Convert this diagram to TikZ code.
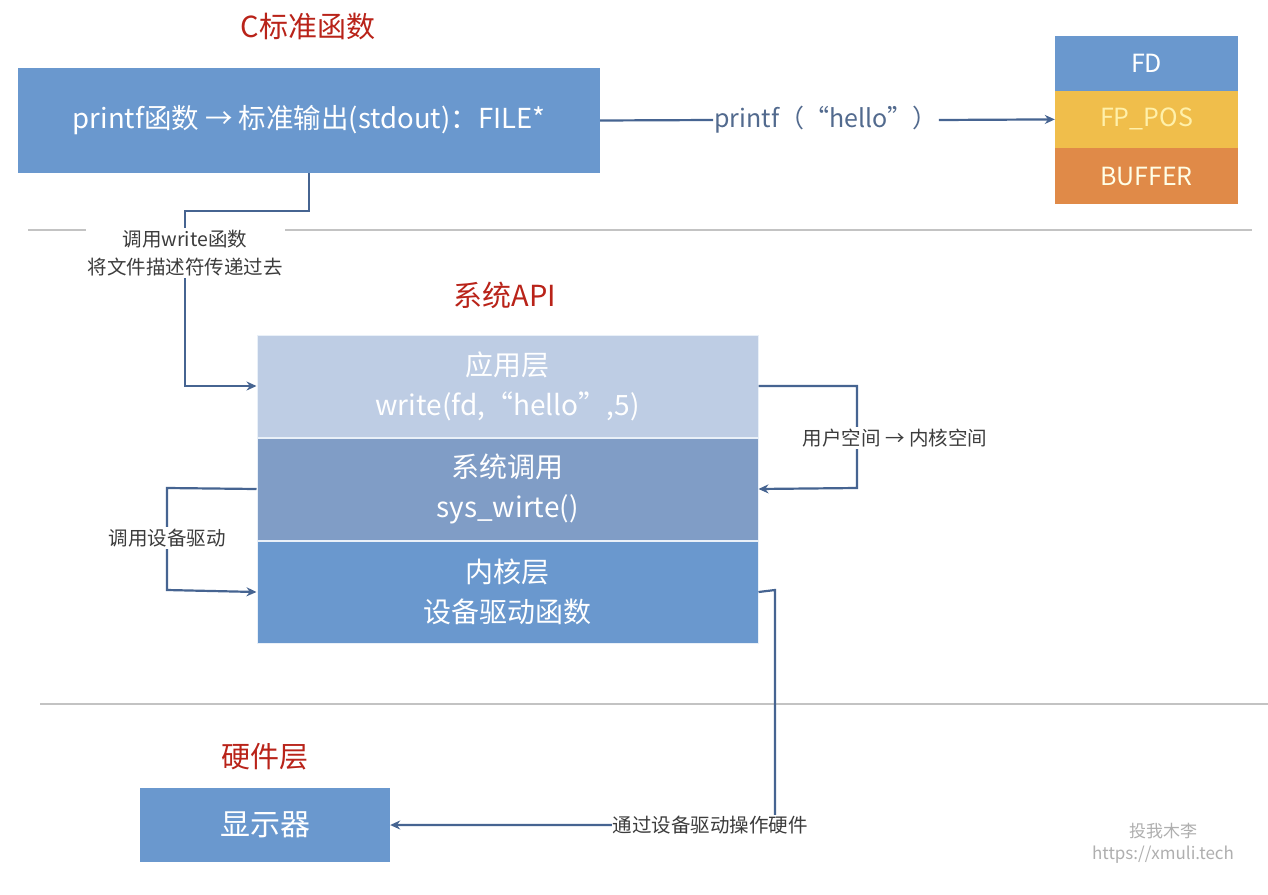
\documentclass[tikz,border=0pt]{standalone}
\usepackage{fontspec}
\setmainfont{Noto Sans CJK SC}
\usetikzlibrary{arrows.meta,positioning}
\definecolor{boxblue}{RGB}{106,152,206}
\definecolor{applayer}{RGB}{190,205,228}
\definecolor{syslayer}{RGB}{128,157,198}
\definecolor{fpyellow}{RGB}{240,190,75}
\definecolor{buforange}{RGB}{224,138,72}
\definecolor{titlered}{RGB}{185,35,25}
\definecolor{conn}{RGB}{70,100,145}
\definecolor{sepgray}{RGB}{195,195,195}
\definecolor{labgray}{RGB}{60,60,60}
\definecolor{wm}{RGB}{175,175,175}
\definecolor{fptext}{RGB}{255,240,170}
\begin{document}
\begin{tikzpicture}[x=1pt,y=-1pt,
  title/.style={text=titlered,font=\fontsize{29}{32}\selectfont},
  blk/.style={fill=boxblue,text=white,inner sep=0pt,align=center},
  layer/.style={draw=white!85!boxblue,line width=1pt,text=white,inner sep=0pt,align=center,font=\fontsize{28}{40}\selectfont},
  stackbox/.style={inner sep=0pt,text=white,font=\fontsize{25}{28}\selectfont},
  connline/.style={draw=conn,line width=2.2pt},
  arr/.style={connline,-{Stealth[length=10pt,width=9pt]}},
  lab/.style={fill=white,text=labgray,inner sep=2pt,align=center,font=\fontsize{19.5}{28}\selectfont},
  sep/.style={draw=sepgray,line width=2pt}
]
\useasboundingbox (0,0) rectangle (1268,894);
\fill[white] (0,0) rectangle (1268,894);

% separators
\draw[sep] (28,230) -- (1252,230);
\draw[sep] (40,704) -- (1268,704);

% titles
\node[title] (t1) at (308,27) {C标准函数};
\node[title] (t2) at (505,295) {系统API};
\node[title] (t3) at (265,757) {硬件层};

% top box
\node[blk,minimum width=582pt,minimum height=105pt,font=\fontsize{27.5}{30}\selectfont] (top) at (309,120.5) {printf函数 → 标准输出(stdout)：FILE*};

% stack
\node[stackbox,fill=boxblue,minimum width=183pt,minimum height=55pt] (fd) at (1146.5,63) {FD};
\node[stackbox,fill=fpyellow,text=fptext,minimum width=183pt,minimum height=57pt,anchor=north] (fp) at (fd.south) {FP\_POS};
\node[stackbox,fill=buforange,text=white!90!yellow,minimum width=183pt,minimum height=56pt,anchor=north] (buf) at (fp.south) {BUFFER};

% printf label
\node[inner sep=1pt,text=conn!80!gray,font=\fontsize{25}{28}\selectfont] (pf) at (826,120) {printf（“hello”）};
\draw[connline] (top.east) -- (pf.west);
\draw[arr] (pf.east) -- (fp.west);

% layers
\node[layer,fill=applayer,minimum width=501pt,minimum height=102pt] (app) at (507.5,386) {应用层\\write(fd,“hello”,5)};
\node[layer,fill=syslayer,minimum width=501pt,minimum height=102pt,anchor=north] (sys) at (app.south) {系统调用\\sys\_wirte()};
\node[layer,fill=boxblue,minimum width=501pt,minimum height=102pt,anchor=north] (ker) at (sys.south) {内核层\\设备驱动函数};

% display
\node[blk,minimum width=250pt,minimum height=74pt,font=\fontsize{30}{34}\selectfont] (disp) at (265,825) {显示器};

% connector top -> app
\coordinate (c1) at (309,211);
\coordinate (c2) at (185,211);
\coordinate (c3) at (185,386);
\draw[arr] (309,173) -- (c1) -- (c2) -- (c3) -- (app.west);
\node[lab] (l1) at (185,253) {调用write函数\\将文件描述符传递过去};

% app -> sys (right)
\coordinate (r1) at (857,386);
\coordinate (r2) at (857,488);
\draw[arr] (app.east) -- (r1) -- (r2) -- (sys.east);
\node[lab] (l2) at (895,438) {用户空间 → 内核空间};

% sys -> ker (left)
\coordinate (s1) at (167,488);
\coordinate (s2) at (167,590);
\draw[arr] (sys.west) -- (s1) -- (s2) -- (ker.west);
\node[lab] (l3) at (167,538) {调用设备驱动};

% ker -> display
\coordinate (k1) at (775,590);
\coordinate (k2) at (775,825);
\draw[arr] (ker.east) -- (k1) -- (k2) -- (disp.east);
\node[lab,inner sep=1pt] (l4) at (710,825) {通过设备驱动操作硬件};

% watermark
\node[text=wm,align=center,font=\fontsize{17}{22}\selectfont] (wm) at (1163,843) {投我木李\\https://xmuli.tech};
\end{tikzpicture}
\end{document}
